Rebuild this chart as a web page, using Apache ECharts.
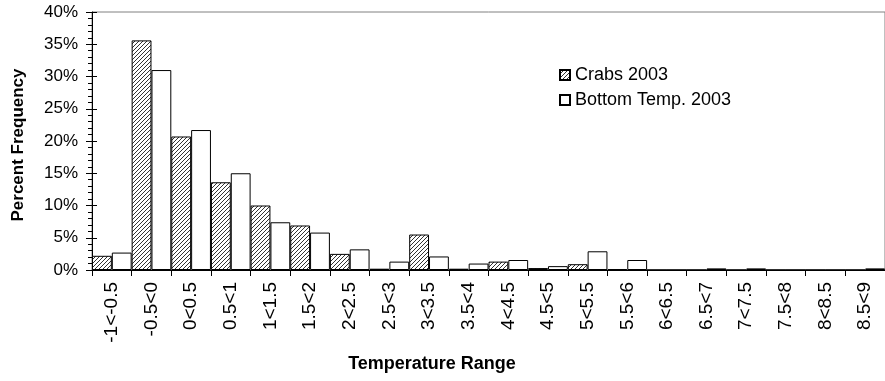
<!DOCTYPE html>
<html>
<head>
<meta charset="utf-8">
<script src="https://cdn.jsdelivr.net/npm/echarts@6/dist/echarts.min.js"></script>
<style>
  html, body { margin: 0; padding: 0; background: #fff; }
  #chart { width: 885px; height: 381px; }
</style>
</head>
<body>
<div id="chart"></div>
<script>
// Temperature bins (°C)
const categories = ['-1<-0.5', '-0.5<0', '0<0.5', '0.5<1', '1<1.5', '1.5<2', '2<2.5', '2.5<3',
  '3<3.5', '3.5<4', '4<4.5', '4.5<5', '5<5.5', '5.5<6', '6<6.5', '6.5<7', '7<7.5', '7.5<8',
  '8<8.5', '8.5<9'];

// Percent frequency per bin
const crabs2003 = [2.2, 35.6, 20.7, 13.6, 10.0, 6.9, 2.5, 0.2, 5.5, 0.2, 1.3, 0.3, 0.9, 0.15,
  0, 0, 0, 0, 0, 0];
const bottomTemp2003 = [2.7, 31.0, 21.7, 15.0, 7.4, 5.8, 3.2, 1.3, 2.1, 1.0, 1.55, 0.6, 2.9, 1.55,
  0, 0.25, 0.25, 0, 0, 0.25];

const yTicks = { min: 0, max: 40, step: 5 };

// Diagonal hatch fill for the crab series
function makeHatch() {
  const s = 4;
  const c = document.createElement('canvas');
  c.width = s; c.height = s;
  const g = c.getContext('2d');
  g.fillStyle = '#ffffff';
  g.fillRect(0, 0, s, s);
  g.strokeStyle = '#333333';
  g.lineWidth = 1;
  g.beginPath();
  g.moveTo(0, s); g.lineTo(s, 0);
  g.moveTo(-1, 1); g.lineTo(1, -1);
  g.moveTo(s - 1, s + 1); g.lineTo(s + 1, s - 1);
  g.stroke();
  return { image: c, repeat: 'repeat' };
}

const font = 'Liberation Sans, Arial, sans-serif';
const chart = echarts.init(document.getElementById('chart'), null, { renderer: 'canvas' });

chart.setOption({
  animation: false,
  backgroundColor: '#ffffff',
  grid: {
    left: 92, top: 12, width: 799, height: 258,
    show: true, borderColor: '#808080', borderWidth: 1, backgroundColor: 'transparent'
  },
  legend: {
    orient: 'vertical',
    left: 554, top: 61,
    itemWidth: 10, itemHeight: 10, itemGap: 7,
    icon: 'rect',
    textStyle: { fontFamily: font, fontSize: 18, color: '#000' },
    data: ['Crabs 2003', 'Bottom Temp. 2003']
  },
  xAxis: {
    type: 'category',
    data: categories,
    axisLine: { lineStyle: { color: '#000', width: 1 } },
    axisTick: { show: true, interval: 0, length: 6, lineStyle: { color: '#000' } },
    axisLabel: { interval: 0, rotate: 90, margin: 12, fontFamily: font, fontSize: 19, color: '#000' },
    splitLine: { show: false }
  },
  yAxis: [{
    type: 'value',
    min: yTicks.min, max: yTicks.max, interval: yTicks.step,
    axisLine: { show: true, lineStyle: { color: '#000', width: 1 } },
    axisTick: { show: true, length: 6, lineStyle: { color: '#000' } },
    minorTick: { show: true, splitNumber: 5, length: 4, lineStyle: { color: '#000' } },
    axisLabel: { formatter: '{value}%', margin: 14, fontFamily: font, fontSize: 17, color: '#000' },
    splitLine: { show: false }
  }, {
    type: 'value', position: 'left',
    min: yTicks.min, max: yTicks.max, interval: yTicks.step,
    axisLine: { show: false },
    axisTick: { show: true, inside: true, length: 5, lineStyle: { color: '#000' } },
    axisLabel: { show: false },
    splitLine: { show: false }
  }],
  graphic: [{
    type: 'text',
    style: { text: 'Percent Frequency', font: 'bold 17px ' + font, fill: '#000',
      textAlign: 'center', textVerticalAlign: 'middle' },
    rotation: Math.PI / 2,
    x: 18, y: 145
  }, {
    type: 'text',
    style: { text: 'Temperature Range', font: 'bold 18px ' + font, fill: '#000',
      textAlign: 'center', textVerticalAlign: 'middle' },
    x: 432, y: 364
  }],
  series: [{
    name: 'Crabs 2003', type: 'bar',
    data: crabs2003,
    barWidth: '50%', barGap: '0%', barCategoryGap: '0%',
    itemStyle: { color: makeHatch(), borderColor: '#000', borderWidth: 1 }
  }, {
    name: 'Bottom Temp. 2003', type: 'bar',
    data: bottomTemp2003,
    barWidth: '50%', barGap: '0%',
    itemStyle: { color: '#ffffff', borderColor: '#000', borderWidth: 1 }
  }]
});
</script>
</body>
</html>
